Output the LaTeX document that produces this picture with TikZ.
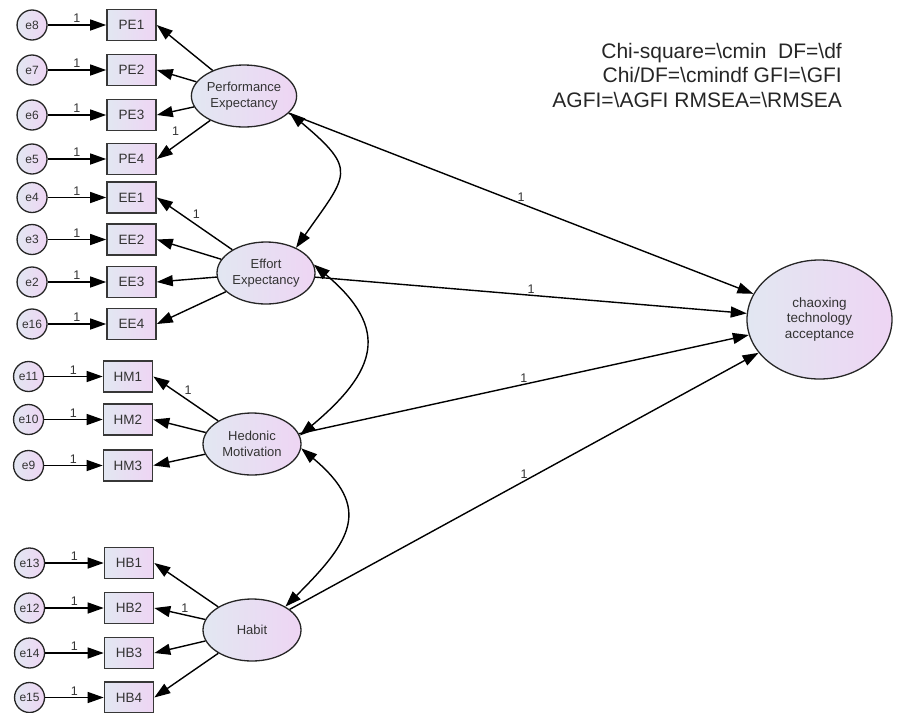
\documentclass[tikz,border=0pt]{standalone}
\usepackage{fontspec}
\setmainfont{Liberation Sans}
\usetikzlibrary{shapes.geometric,arrows.meta,positioning}
\definecolor{shadeL}{RGB}{226,231,242}
\definecolor{shadeR}{RGB}{238,213,243}
\definecolor{edgegray}{RGB}{55,55,55}
\tikzset{
  obsbox/.style={rectangle, draw=edgegray, line width=1.6pt, left color=shadeL, right color=shadeR,
                 minimum width=49pt, minimum height=31pt, inner sep=0pt,
                 font=\fontsize{13.5}{15}\selectfont, text=black!80},
  errnode/.style={circle, draw=black!85, line width=1.3pt, left color=shadeL, right color=shadeR,
                  minimum size=30pt, inner sep=0pt, font=\fontsize{12}{14}\selectfont, text=black!80},
  latnode/.style={ellipse, draw=black!85, line width=1.3pt, left color=shadeL, right color=shadeR,
                  minimum width=98pt, minimum height=62pt, inner sep=0pt, align=center,
                  font=\fontsize{13}{15.5}\selectfont, text=black!80},
  patharr/.style={-{Triangle[length=16pt,width=11pt]}, line width=1.4pt},
  covarr/.style={{Triangle[length=16pt,width=11pt]}-{Triangle[length=16pt,width=11pt]}, line width=1.4pt},
  lbl/.style={font=\fontsize{12.5}{14}\selectfont, inner sep=1.5pt, text=black!80},
}

\begin{document}
\begin{tikzpicture}[x=1pt, y=1pt, node distance=58.5pt]
    \useasboundingbox (0,0) rectangle (898,-713);
    % observed indicators
    \node[obsbox] at (131.5,-25) (PE1) {PE1};
    \node[obsbox] at (131.5,-70) (PE2) {PE2};
    \node[obsbox] at (131.5,-115) (PE3) {PE3};
    \node[obsbox] at (131.5,-159) (PE4) {PE4};
    \node[obsbox] at (131.5,-197.5) (EE1) {EE1};
    \node[obsbox] at (131.5,-239.5) (EE2) {EE2};
    \node[obsbox] at (131.5,-282) (EE3) {EE3};
    \node[obsbox] at (131.5,-324) (EE4) {EE4};
    \node[obsbox] at (128,-376.5) (HM1) {HM1};
    \node[obsbox] at (128,-419.5) (HM2) {HM2};
    \node[obsbox] at (128,-465.5) (HM3) {HM3};
    \node[obsbox] at (129,-563) (HB1) {HB1};
    \node[obsbox] at (129,-608) (HB2) {HB2};
    \node[obsbox] at (129,-653) (HB3) {HB3};
    \node[obsbox] at (129,-697.5) (HB4) {HB4};
    % error terms
    \node[errnode, left=of PE1] (e8) {e8};
    \node[errnode, left=of PE2] (e7) {e7};
    \node[errnode, left=of PE3] (e6) {e6};
    \node[errnode, left=of PE4] (e5) {e5};
    \node[errnode, left=of EE1] (e4) {e4};
    \node[errnode, left=of EE2] (e3) {e3};
    \node[errnode, left=of EE3] (e2) {e2};
    \node[errnode, left=of EE4] (e16) {e16};
    \node[errnode, left=of HM1] (e11) {e11};
    \node[errnode, left=of HM2] (e10) {e10};
    \node[errnode, left=of HM3] (e9) {e9};
    \node[errnode, left=of HB1] (e13) {e13};
    \node[errnode, left=of HB2] (e12) {e12};
    \node[errnode, left=of HB3] (e14) {e14};
    \node[errnode, left=of HB4] (e15) {e15};
    % latent factors
    \node[latnode] at (244,-96) (PE) {Performance\\Expectancy};
    \node[latnode] at (266,-273) (EE) {Effort\\Expectancy};
    \node[latnode] at (252,-444) (HM) {Hedonic\\Motivation};
    \node[latnode] at (252,-630) (HB) {Habit};
    \node[latnode, minimum width=145pt, minimum height=119pt, font=\fontsize{13.5}{15.5}\selectfont]
        at (819.5,-319.5) (CTA) {chaoxing\\technology\\acceptance};
    % fit indices
    \node[anchor=east, align=right, inner sep=0pt, font=\fontsize{21}{24.5}\selectfont, text=black!85]
        at (842,-75) (fit) {Chi-square=\textbackslash cmin\ \ DF=\textbackslash df\\
        Chi/DF=\textbackslash cmindf GFI=\textbackslash GFI\\
        AGFI=\textbackslash AGFI RMSEA=\textbackslash RMSEA};
    % error paths
    \draw[patharr] (e8) -- node[lbl, above] {1} (PE1);
    \draw[patharr] (e7) -- node[lbl, above] {1} (PE2);
    \draw[patharr] (e6) -- node[lbl, above] {1} (PE3);
    \draw[patharr] (e5) -- node[lbl, above] {1} (PE4);
    \draw[patharr] (e4) -- node[lbl, above] {1} (EE1);
    \draw[patharr] (e3) -- node[lbl, above] {1} (EE2);
    \draw[patharr] (e2) -- node[lbl, above] {1} (EE3);
    \draw[patharr] (e16) -- node[lbl, above] {1} (EE4);
    \draw[patharr] (e11) -- node[lbl, above] {1} (HM1);
    \draw[patharr] (e10) -- node[lbl, above] {1} (HM2);
    \draw[patharr] (e9) -- node[lbl, above] {1} (HM3);
    \draw[patharr] (e13) -- node[lbl, above] {1} (HB1);
    \draw[patharr] (e12) -- node[lbl, above] {1} (HB2);
    \draw[patharr] (e14) -- node[lbl, above] {1} (HB3);
    \draw[patharr] (e15) -- node[lbl, above] {1} (HB4);
    % loadings
    \draw[patharr] (PE) -- (PE1.east);
    \draw[patharr] (PE) -- (PE2.east);
    \draw[patharr] (PE) -- (PE3.east);
    \draw[patharr] (PE) -- node[lbl, pos=0.65, above=8pt] {1} (PE4.east);
    \draw[patharr] (EE) -- node[lbl, pos=0.55, above right] {1} (EE1.east);
    \draw[patharr] (EE) -- (EE2.east);
    \draw[patharr] (EE) -- (EE3.east);
    \draw[patharr] (EE) -- (EE4.east);
    \draw[patharr] (HM) -- node[lbl, pos=0.55, above right] {1} (HM1.east);
    \draw[patharr] (HM) -- (HM2.east);
    \draw[patharr] (HM) -- (HM3.east);
    \draw[patharr] (HB) -- (HB1.east);
    \draw[patharr] (HB) -- node[lbl, pos=0.4, above] {1} (HB2.east);
    \draw[patharr] (HB) -- (HB3.east);
    \draw[patharr] (HB) -- (HB4.east);
    % structural paths
    \draw[patharr] (PE) -- node[lbl, above] {1} (CTA);
    \draw[patharr] (EE) -- node[lbl, above] {1} (CTA);
    \draw[patharr] (HM) -- node[lbl, above] {1} (CTA);
    \draw[patharr] (HB) -- node[lbl, above] {1} (CTA);
    % covariances
    \draw[covarr] (PE.-20) to[out=-40, in=55, looseness=1.7] (EE.40);
    \draw[covarr] (EE.10) to[out=-40, in=40, looseness=1.5] (HM.10);
    \draw[covarr] (HM.-5) to[out=-40, in=45, looseness=1.5] (HB.35);
  \end{tikzpicture}
\end{document}
